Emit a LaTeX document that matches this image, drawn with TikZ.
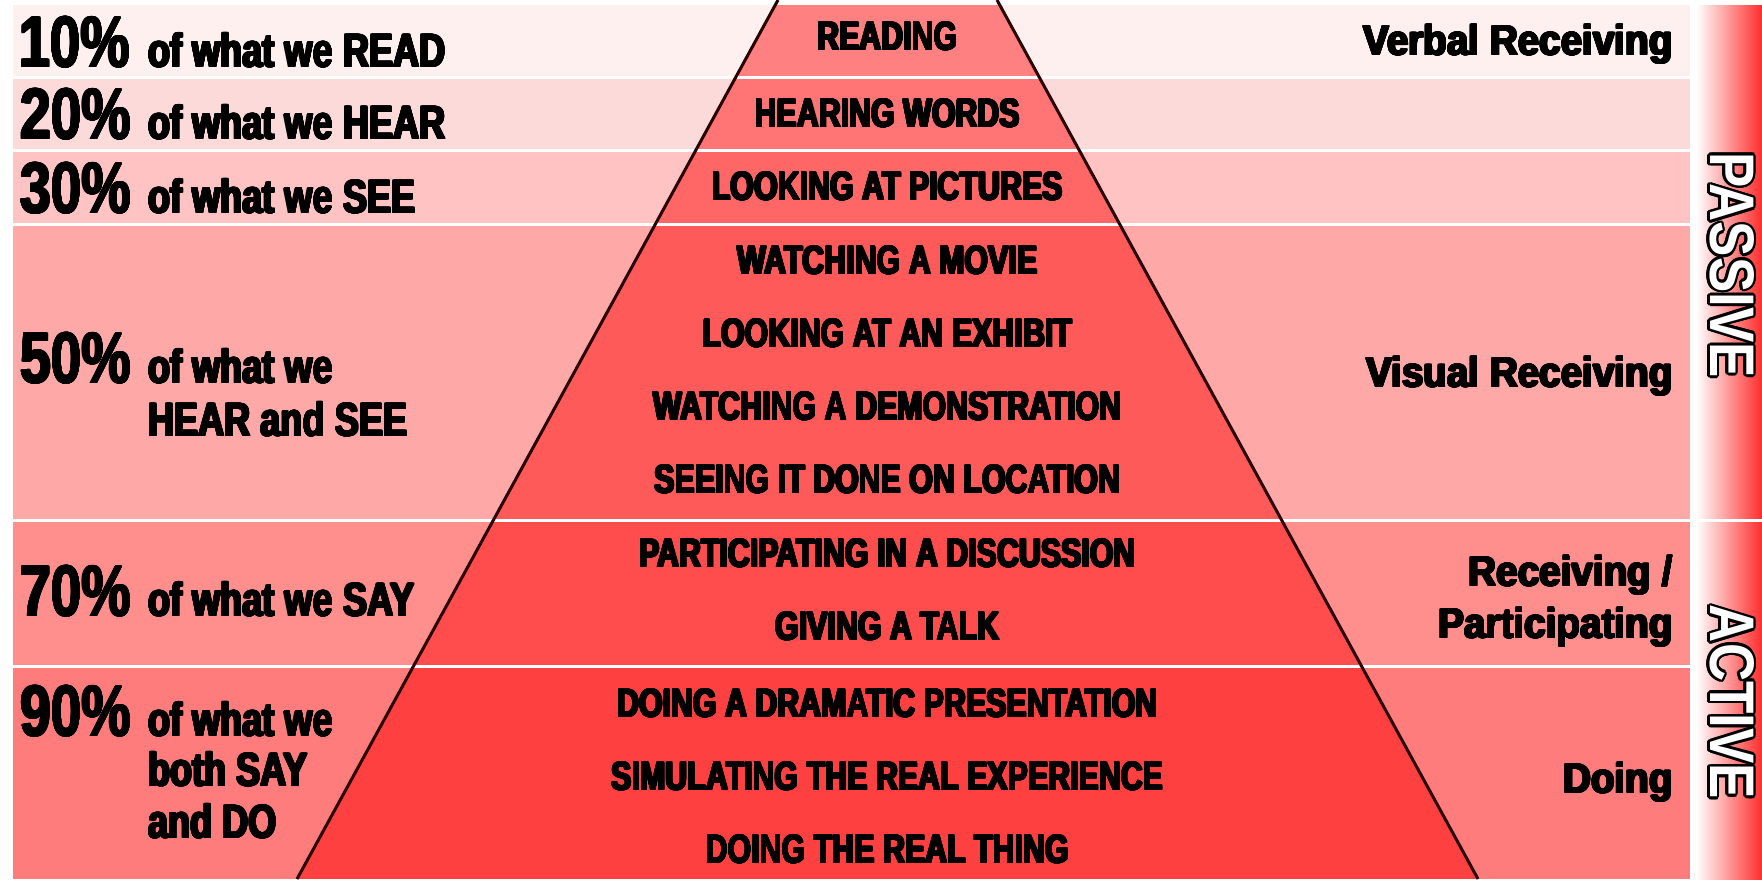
\documentclass[tikz,border=0pt]{standalone}
\usepackage{fontspec}
\usepackage[copies]{contour}
% condensed heavy faces
\newfontfamily\condfont[FakeStretch=0.77]{Liberation Sans Bold}
\newfontfamily\pyrfont[FakeStretch=0.76]{Liberation Sans Bold}
\newfontfamily\pctfont[FakeStretch=0.77]{Liberation Sans Bold}
\newfontfamily\widefont[FakeStretch=0.92]{Liberation Sans Bold}
\newfontfamily\sidefont[FakeStretch=0.84]{Liberation Sans Bold}
% thicken strokes with a thin black outline
\newcommand{\heavy}[1]{{\contourlength{0.9pt}\contour{black}{#1}}}
\newcommand{\outlined}[1]{{\contourlength{2.6pt}\contour{black}{#1}}}

% outer bands
\definecolor{bandA}{RGB}{255,240,240}
\definecolor{bandB}{RGB}{252,218,218}
\definecolor{bandC}{RGB}{255,195,195}
\definecolor{bandD}{RGB}{255,168,168}
\definecolor{bandE}{RGB}{255,143,140}
\definecolor{bandF}{RGB}{255,124,124}
% pyramid layers
\definecolor{pyrA}{RGB}{255,128,128}
\definecolor{pyrB}{RGB}{255,116,116}
\definecolor{pyrC}{RGB}{255,103,103}
\definecolor{pyrD}{RGB}{255,90,90}
\definecolor{pyrE}{RGB}{255,77,77}
\definecolor{pyrF}{RGB}{255,64,64}
\definecolor{sidemid}{RGB}{255,140,140}
\definecolor{sidered}{RGB}{255,45,45}
\definecolor{edgecol}{RGB}{40,0,0}

\begin{document}
\begin{tikzpicture}[x=1pt,y=-1pt,
  pct/.style={anchor=base west, inner sep=0pt, font=\pctfont\fontsize{72}{72}\selectfont},
  lbl/.style={anchor=base west, inner sep=0pt, font=\condfont\fontsize{47}{52}\selectfont},
  pyrtext/.style={anchor=base, inner sep=0pt, font=\pyrfont\fontsize{40}{40}\selectfont},
  sidetext/.style={anchor=base east, inner sep=0pt, font=\widefont\fontsize{42}{42}\selectfont},
  vert/.style={anchor=base, rotate=-90, inner sep=0pt, text=white, font=\sidefont\fontsize{63}{63}\selectfont},
  sep/.style={white, line width=3pt},
  edge/.style={edgecol, line width=3pt}]

\useasboundingbox (0,0) rectangle (1762,879);
\fill[white] (0,0) rectangle (1762,879);

% background bands
\fill[bandA] (13,5) rectangle (1690,78);
\fill[bandB] (13,77) rectangle (1690,151);
\fill[bandC] (13,150) rectangle (1690,225);
\fill[bandD] (13,224) rectangle (1690,521);
\fill[bandE] (13,520) rectangle (1690,667);
\fill[bandF] (13,666) rectangle (1690,879);

% pyramid layers
\begin{scope}
  \clip (778,0) -- (997,0) -- (1478,879) -- (297,879) -- cycle;
  \fill[pyrA] (13,5) rectangle (1690,78);
  \fill[pyrB] (13,77) rectangle (1690,151);
  \fill[pyrC] (13,150) rectangle (1690,225);
  \fill[pyrD] (13,224) rectangle (1690,521);
  \fill[pyrE] (13,520) rectangle (1690,667);
  \fill[pyrF] (13,666) rectangle (1690,879);
\end{scope}

% separators
\foreach \yy in {77.5,150.5,224.5,520.5,666.5}
  \draw[sep] (13,\yy) -- (1690,\yy);

% side bar
\shade[left color=white, middle color=sidemid, right color=sidered] (1696,5) rectangle (1762,879);
\draw[sep] (1696,520.5) -- (1762,520.5);

% pyramid edges
\draw[edge] (778,0) -- (297,879);
\draw[edge] (997,0) -- (1478,879);

% left column
\node[pct] (p10) at (19,67) {\heavy{10\%}};
\node[lbl] (t10) at (148,67) {\heavy{of what we READ}};
\node[pct] (p20) at (20,139) {\heavy{20\%}};
\node[lbl] (t20) at (148,139) {\heavy{of what we HEAR}};
\node[pct] (p30) at (20,213) {\heavy{30\%}};
\node[lbl] (t30) at (148,213) {\heavy{of what we SEE}};
\node[pct] (p50) at (20,383) {\heavy{50\%}};
\node[lbl] (t50a) at (148,383) {\heavy{of what we}};
\node[lbl] (t50b) at (148,436) {\heavy{HEAR and SEE}};
\node[pct] (p70) at (20,616) {\heavy{70\%}};
\node[lbl] (t70) at (148,616) {\heavy{of what we SAY}};
\node[pct] (p90) at (20,736) {\heavy{90\%}};
\node[lbl] (t90a) at (148,736) {\heavy{of what we}};
\node[lbl] (t90b) at (148,786) {\heavy{both SAY}};
\node[lbl] (t90c) at (148,838) {\heavy{and DO}};

% pyramid labels
\node[pyrtext] (r1) at (887.5,50) {\heavy{READING}};
\node[pyrtext] (r2) at (887.5,127) {\heavy{HEARING WORDS}};
\node[pyrtext] (r3) at (887.5,200) {\heavy{LOOKING AT PICTURES}};
\node[pyrtext] (r4) at (887.5,274) {\heavy{WATCHING A MOVIE}};
\node[pyrtext] (r5) at (887.5,347) {\heavy{LOOKING AT AN EXHIBIT}};
\node[pyrtext] (r6) at (887.5,420) {\heavy{WATCHING A DEMONSTRATION}};
\node[pyrtext] (r7) at (887.5,493) {\heavy{SEEING IT DONE ON LOCATION}};
\node[pyrtext] (r8) at (887.5,567) {\heavy{PARTICIPATING IN A DISCUSSION}};
\node[pyrtext] (r9) at (887.5,640) {\heavy{GIVING A TALK}};
\node[pyrtext] (r10) at (887.5,717) {\heavy{DOING A DRAMATIC PRESENTATION}};
\node[pyrtext] (r11) at (887.5,790) {\heavy{SIMULATING THE REAL EXPERIENCE}};
\node[pyrtext] (r12) at (887.5,863) {\heavy{DOING THE REAL THING}};

% right column
\node[sidetext] (s1) at (1673,55) {\heavy{Verbal Receiving}};
\node[sidetext] (s2) at (1673,387) {\heavy{Visual Receiving}};
\node[sidetext] (s3) at (1673,586) {\heavy{Receiving /}};
\node[sidetext] (s4) at (1673,638) {\heavy{Participating}};
\node[sidetext] (s5) at (1673,793) {\heavy{Doing}};

% vertical captions
\node[vert] (passive) at (1710,265) {\outlined{PASSIVE}};
\node[vert] (active) at (1710,702) {\outlined{ACTIVE}};
\end{tikzpicture}
\end{document}
